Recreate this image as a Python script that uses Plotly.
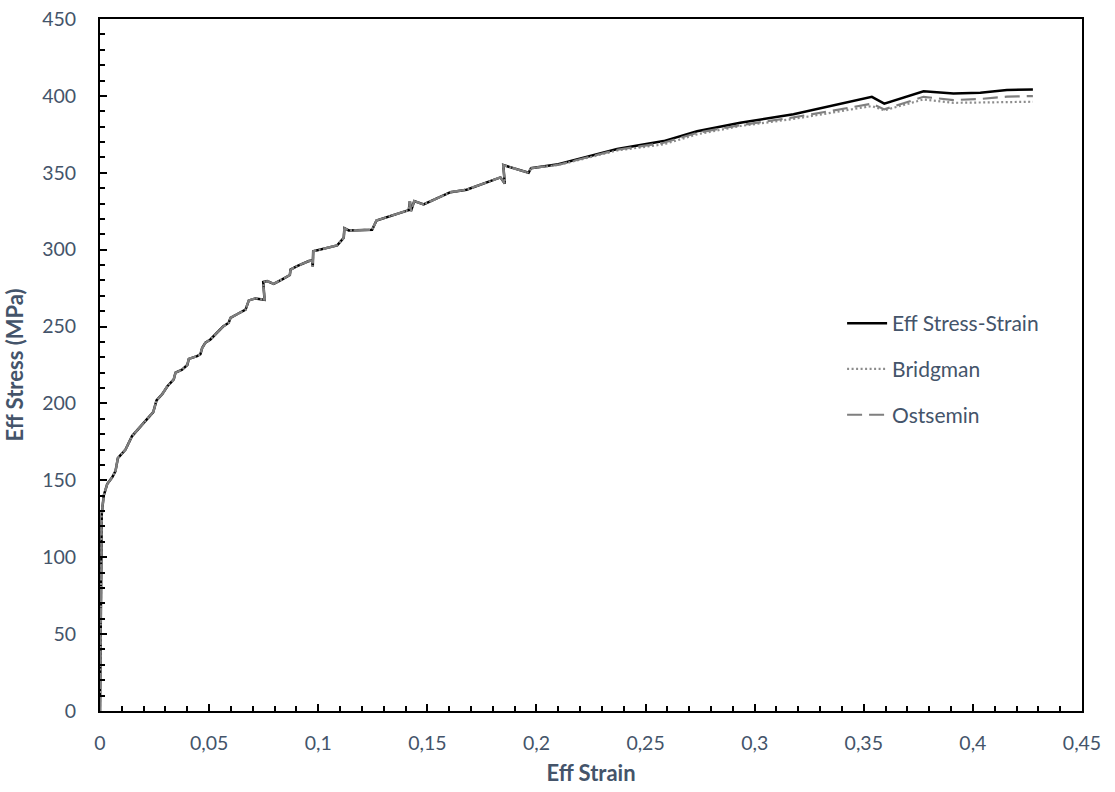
import plotly.graph_objects as go

# Effective strain (shared x values)
strain = [0, 0.0003, 0.0006, 0.0008, 0.0017, 0.0033, 0.0056, 0.0071, 0.0082, 0.0117,
          0.0147, 0.0208, 0.0244, 0.0259, 0.0285, 0.0308, 0.0338, 0.0346, 0.0376, 0.0400,
          0.0407, 0.0445, 0.0460, 0.0468, 0.0483, 0.0506, 0.0534, 0.0564, 0.0590, 0.0598,
          0.0628, 0.0667, 0.0682, 0.0712, 0.0754, 0.0748, 0.0766, 0.0796, 0.0835, 0.0870,
          0.0873, 0.0903, 0.0957, 0.0972, 0.0975, 0.0977, 0.1087, 0.1117, 0.1120, 0.1140,
          0.1247, 0.1267, 0.1415, 0.1420, 0.1425, 0.1440, 0.1483, 0.1606, 0.1680, 0.1835,
          0.1855, 0.1848, 0.1964, 0.1975, 0.2100, 0.2370, 0.2583, 0.2736, 0.2934, 0.3178,
          0.3537, 0.3594, 0.3774, 0.3911, 0.4034, 0.4156, 0.4275]

eff_stress = [0, 40, 90, 128, 140, 147.6, 152, 156, 164.5, 170,
              178.8, 189, 194.4, 202, 206, 211, 215.7, 220, 222, 225,
              229, 230.8, 232, 236, 239.5, 241.6, 246, 250, 252.5, 255.7,
              258, 261, 267, 268.3, 267.4, 279, 279.6, 277.8, 280.7, 283.5,
              287, 289.3, 292.6, 293, 289, 299, 302.8, 307.7, 314, 312.5,
              313, 319, 325.7, 331.6, 325, 331.6, 329.4, 337.4, 339, 347,
              343, 355, 350, 353, 355.5, 365.5, 370.6, 377, 382.5, 388,
              399.4, 395, 403, 401.5, 402, 403.8, 404.2]

bridgman = [0, 40, 90, 128, 140, 147.6, 152, 156, 164.5, 170,
            178.8, 189, 194.4, 202, 206, 211, 215.7, 220, 222, 225,
            229, 230.8, 232, 236, 239.5, 241.6, 246, 250, 252.5, 255.7,
            258, 261, 267, 268.3, 267.4, 279, 279.6, 277.8, 280.7, 283.5,
            287, 289.3, 292.6, 293, 289, 299, 302.8, 307.7, 314, 312.5,
            313, 319, 325.7, 331.6, 325, 331.6, 329.4, 337.4, 339, 347,
            343, 355, 350, 353, 355, 364.5, 368.5, 375, 380.4, 385,
            393.4, 390.6, 397.7, 395.5, 395.7, 396, 396.2]

ostsemin = [0, 40, 90, 128, 140, 147.6, 152, 156, 164.5, 170,
            178.8, 189, 194.4, 202, 206, 211, 215.7, 220, 222, 225,
            229, 230.8, 232, 236, 239.5, 241.6, 246, 250, 252.5, 255.7,
            258, 261, 267, 268.3, 267.4, 279, 279.6, 277.8, 280.7, 283.5,
            287, 289.3, 292.6, 293, 289, 299, 302.8, 307.7, 314, 312.5,
            313, 319, 325.7, 331.6, 325, 331.6, 329.4, 337.4, 339, 347,
            343, 355, 350, 353, 355.2, 365, 369.5, 376, 381, 386,
            394.9, 391.2, 399.4, 397.3, 398, 399.5, 399.9]

x_tickvals = [0, 0.05, 0.1, 0.15, 0.2, 0.25, 0.3, 0.35, 0.4, 0.45]
x_ticktext = ["0", "0,05", "0,1", "0,15", "0,2", "0,25", "0,3", "0,35", "0,4", "0,45"]
y_tickvals = [0, 50, 100, 150, 200, 250, 300, 350, 400, 450]

TXT = "#44546A"
FONT = "Lato"

fig = go.Figure()
fig.add_trace(go.Scatter(x=strain, y=eff_stress, mode="lines", name="Eff Stress-Strain",
                         legendgroup="a",
                         line=dict(color="#000000", width=2.5)))
fig.add_trace(go.Scatter(x=strain, y=bridgman, mode="lines", name="Bridgman",
                         legendgroup="b",
                         line=dict(color="#8c8c8c", width=2.2, dash="2px,2.5px")))
fig.add_trace(go.Scatter(x=strain, y=ostsemin, mode="lines", name="Ostsemin",
                         legendgroup="c",
                         line=dict(color="#7f7f7f", width=2.2, dash="15px,7px")))

axis_common = dict(
    showgrid=False, zeroline=False, showline=True, linecolor="#000000", linewidth=2,
    mirror=True, ticks="inside", ticklen=7, tickwidth=2, tickcolor="#000000",
    tickfont=dict(family=FONT, size=19.5, color=TXT),
)

fig.update_xaxes(
    range=[0, 0.45], tickvals=x_tickvals, ticktext=x_ticktext,
    minor=dict(dtick=0.01, ticks="inside", ticklen=5, tickwidth=1.5, tickcolor="#000000"),
    ticklabelstandoff=14,
    title=dict(text="<b>Eff Strain</b>", font=dict(family=FONT, size=22, color=TXT), standoff=12),
    **axis_common,
)
fig.update_yaxes(
    range=[0, 450], tickvals=y_tickvals,
    minor=dict(dtick=10, ticks="inside", ticklen=5, tickwidth=1.5, tickcolor="#000000"),
    ticklabelstandoff=18,
    title=dict(text="<b>Eff Stress (MPa)</b>", font=dict(family=FONT, size=22, color=TXT), standoff=12),
    **axis_common,
)

fig.update_layout(
    width=1115, height=792,
    margin=dict(l=100, r=33, t=19, b=81, autoexpand=False),
    paper_bgcolor="#ffffff", plot_bgcolor="#ffffff",
    font=dict(family=FONT, size=19, color=TXT),
    showlegend=True,
    legend=dict(x=0.7557, y=0.5896, xanchor="left", yanchor="top",
                bgcolor="rgba(0,0,0,0)", font=dict(family=FONT, size=21, color=TXT),
                tracegroupgap=15.5, itemwidth=40),
)

fig.write_html("out.html")
